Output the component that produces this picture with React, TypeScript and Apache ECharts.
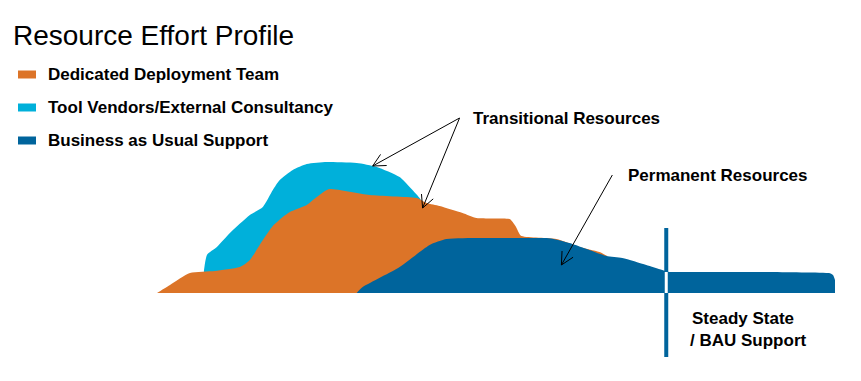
import { useEffect, useRef } from "react";
import * as echarts from "echarts";

// Series names (legend order)
const seriesNames = [
  "Dedicated Deployment Team",
  "Tool Vendors/External Consultancy",
  "Business as Usual Support",
];

// [time, effort] pairs
const deploymentTeam: [number, number][] = [
  [0, 0], [1.3, 0.8], [3.3, 2.0], [5.8, 2.2], [8.3, 2.6], [9.3, 3.3],
  [10.6, 5.3], [11.6, 6.7], [12.6, 7.6], [13.3, 8.1], [15.0, 8.8],
  [16.0, 9.6], [17.3, 10.4], [21.3, 9.8], [26.0, 9.5], [27.0, 9.0],
  [28.3, 8.7], [30.6, 8.0], [32.0, 7.5], [35.3, 7.4], [35.9, 6.7],
  [36.5, 5.7], [40.0, 5.4], [42.3, 4.6], [44.3, 4.1], [45.1, 3.7],
];

const toolVendors: [number, number][] = [
  [4.7, 2.2], [5.0, 3.8], [6.0, 4.6], [7.3, 6.0], [9.3, 7.8], [10.6, 8.6],
  [11.6, 10.3], [12.3, 11.3], [13.6, 12.3], [15.0, 12.9], [17.0, 13.1],
  [20.0, 13.0], [22.0, 12.6], [24.3, 11.6], [25.3, 10.6], [26.3, 9.5],
  [26.7, 8.8],
];

const bauSupport: [number, number][] = [
  [20.0, 0], [20.6, 0.6], [24.3, 2.6], [27.3, 4.8], [29.0, 5.4],
  [32.3, 5.5], [39.0, 5.5], [41.3, 5.0], [43.3, 4.3], [45.0, 3.7],
  [46.6, 3.5], [49.0, 2.8], [50.6, 2.3], [51.3, 2.1], [60.3, 2.1],
  [67.3, 2.0], [67.7, 1.8], [67.9, 1.3],
];

const steadyStateStart = 51.0;
const steadyStateLevel = 2.1;

const titleText = "Resource Effort Profile";
const transitionalLabel = "Transitional Resources";
const permanentLabel = "Permanent Resources";
const steadyLabels = ["Steady State", "/ BAU Support"];

const colors = {
  orange: "#DC7428",
  cyan: "#00B0DA",
  navy: "#00649C",
};

export default function App() {
  const ref = useRef<HTMLDivElement>(null);

  useEffect(() => {
    const chart = echarts.init(ref.current!, null, { renderer: "svg" });
    const font = "'Liberation Sans', Arial, Helvetica, sans-serif";

    const areaSeries = (name: string, data: [number, number][], color: string, z: number) => ({
      name,
      type: "line",
      data,
      color,
      z,
      smooth: 0.2,
      showSymbol: false,
      symbol: "none",
      lineStyle: { width: 0, color },
      areaStyle: { color, opacity: 1 },
      itemStyle: { color },
      silent: true,
    });

    chart.setOption({
      animation: false,
      title: {
        text: titleText,
        left: 13,
        top: 21,
        padding: 0,
        textStyle: { fontFamily: font, fontSize: 28, fontWeight: "normal", color: "#000" },
      },
      legend: {
        data: seriesNames,
        orient: "vertical",
        left: 18,
        top: 66,
        padding: 0,
        itemGap: 16,
        itemWidth: 18,
        itemHeight: 8,
        icon: "rect",
        selectedMode: false,
        textStyle: {
          fontFamily: font,
          fontSize: 17,
          fontWeight: "bold",
          color: "#000",
          padding: [0, 0, 0, 7],
        },
      },
      grid: { left: 157, right: 25, top: 153, bottom: 88 },
      xAxis: { type: "value", min: 0, max: 68, show: false },
      yAxis: { type: "value", min: 0, max: 14, show: false },
      series: [
        areaSeries(seriesNames[1], toolVendors, colors.cyan, 1),
        areaSeries(seriesNames[0], deploymentTeam, colors.orange, 2),
        areaSeries(seriesNames[2], bauSupport, colors.navy, 3),
      ],
    });

    const px = (p: [number, number]) => chart.convertToPixel({ gridIndex: 0 }, p) as number[];

    const arrow = (from: [number, number], to: [number, number]) => {
      const a = px(from);
      const b = px(to);
      const ang = Math.atan2(b[1] - a[1], b[0] - a[0]);
      const L = 14;
      const spread = 0.47;
      const w1 = [b[0] - L * Math.cos(ang - spread), b[1] - L * Math.sin(ang - spread)];
      const w2 = [b[0] - L * Math.cos(ang + spread), b[1] - L * Math.sin(ang + spread)];
      return [
        {
          type: "line",
          shape: { x1: a[0], y1: a[1], x2: b[0], y2: b[1] },
          style: { stroke: "#000", lineWidth: 1 },
          z: 10,
        },
        {
          type: "polyline",
          shape: { points: [w1, b, w2] },
          style: { stroke: "#000", fill: null, lineWidth: 1 },
          z: 10,
        },
      ];
    };

    const apex: [number, number] = [30.3, 17.5];
    const permStart: [number, number] = [45.6, 11.8];

    const vTop = px([steadyStateStart, 6.5]);
    const vBottom = px([steadyStateStart, -6.4]);
    const gapTop = px([steadyStateStart, steadyStateLevel]);
    const gapBottom = px([steadyStateStart, 0]);

    const labelStyle = {
      fontFamily: font,
      fontSize: 17,
      fontWeight: "bold",
      fill: "#000",
    };

    chart.setOption({
      graphic: [
        ...arrow(apex, [21.6, 12.7]),
        ...arrow(apex, [26.6, 8.5]),
        ...arrow(permStart, [40.5, 2.8]),
        {
          type: "line",
          shape: { x1: vTop[0], y1: vTop[1], x2: vBottom[0], y2: vBottom[1] },
          style: { stroke: colors.navy, lineWidth: 4 },
          z: 10,
        },
        {
          type: "rect",
          shape: { x: gapTop[0] - 1.5, y: gapTop[1], width: 3, height: gapBottom[1] - gapTop[1] },
          style: { fill: "#fff" },
          z: 11,
        },
        {
          type: "text",
          x: 473,
          y: 118,
          style: { ...labelStyle, text: transitionalLabel, verticalAlign: "middle" },
          z: 10,
        },
        {
          type: "text",
          x: 628,
          y: 175,
          style: { ...labelStyle, text: permanentLabel, verticalAlign: "middle" },
          z: 10,
        },
        {
          type: "text",
          x: 692,
          y: 318,
          style: { ...labelStyle, text: steadyLabels[0], verticalAlign: "middle" },
          z: 10,
        },
        {
          type: "text",
          x: 690,
          y: 340,
          style: { ...labelStyle, text: steadyLabels[1], verticalAlign: "middle" },
          z: 10,
        },
      ],
    });

    return () => chart.dispose();
  }, []);

  return (
    <div
      ref={ref}
      style={{ position: "fixed", left: 0, top: 0, width: 861, height: 381, background: "#fff" }}
    />
  );
}
